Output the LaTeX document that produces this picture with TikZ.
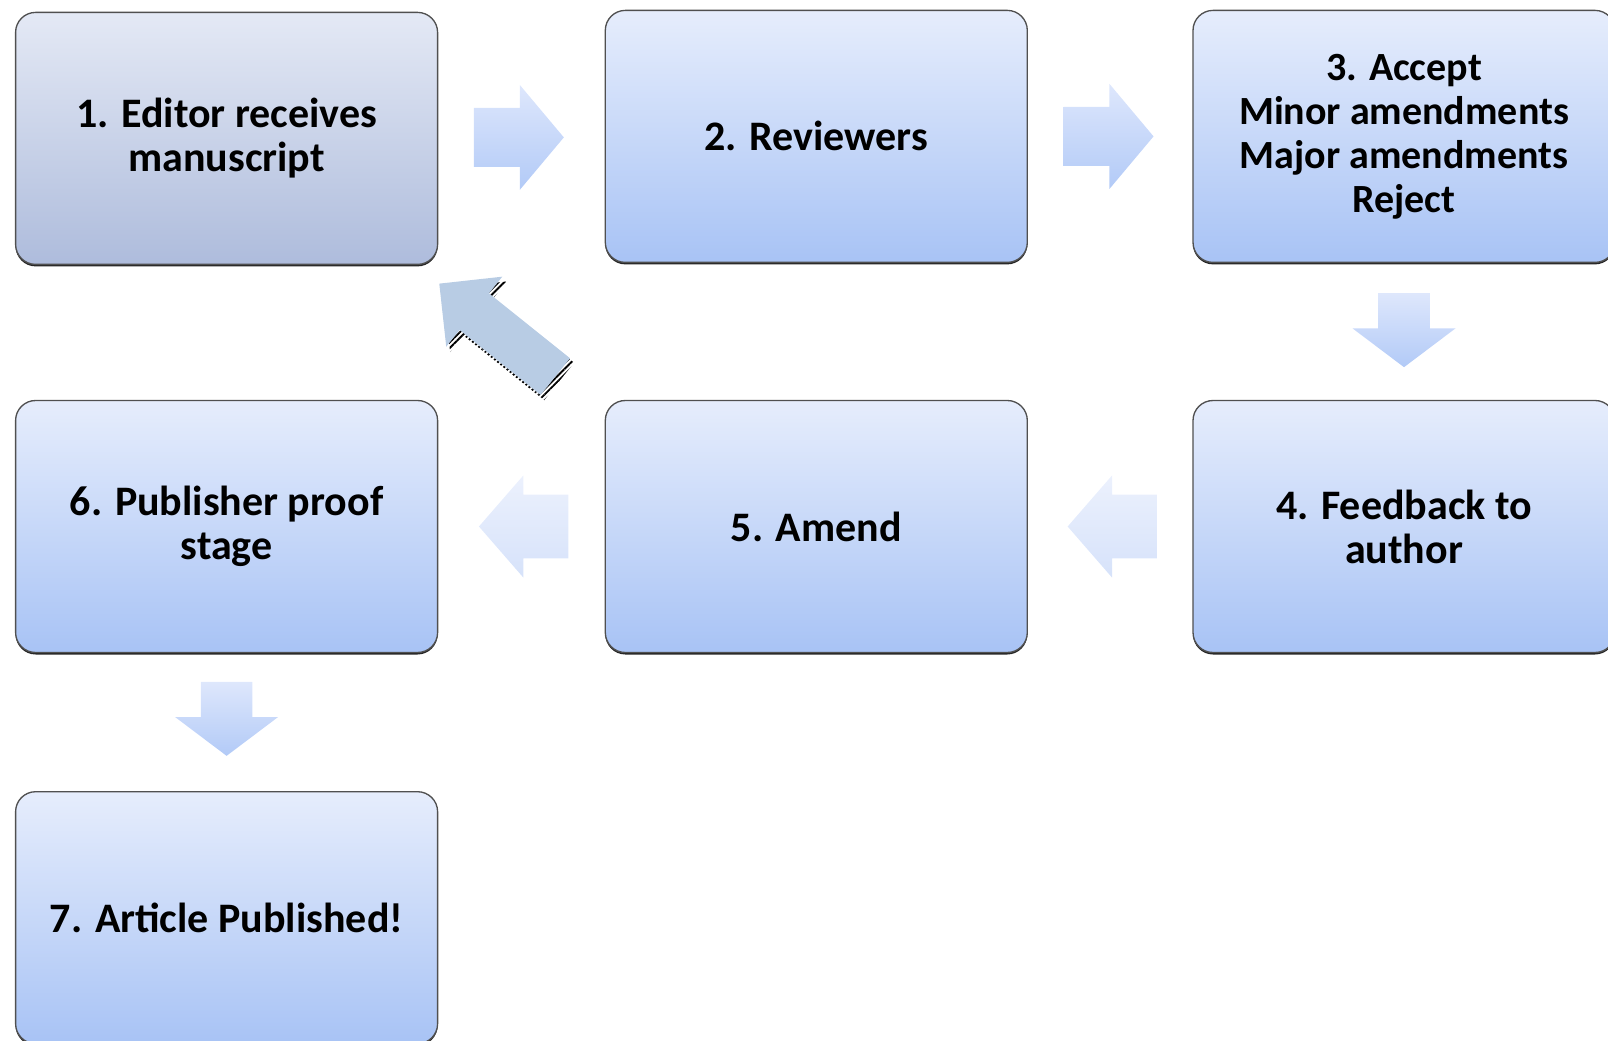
\documentclass[tikz,border=0pt]{standalone}
\usepackage{fontspec}
\setmainfont{Carlito}
\usetikzlibrary{shapes.arrows,calc,patterns.meta,shadows}
\tikzset{every picture/.style={line width=0.75pt}}

\definecolor{firsttop}{RGB}{228,233,245}
\definecolor{firstbot}{RGB}{174,188,220}
\definecolor{stagetop}{RGB}{230,237,252}
\definecolor{stagebot}{RGB}{168,195,245}
\definecolor{stageline}{RGB}{80,80,80}
\definecolor{arrowtop}{RGB}{222,231,252}
\definecolor{arrowbot}{RGB}{178,202,247}
\definecolor{lefttop}{RGB}{236,241,253}
\definecolor{leftbot}{RGB}{214,226,250}
\definecolor{backfill}{RGB}{184,204,228}

\tikzset{
  stage/.style={draw=stageline, line width=1pt, rounded corners=15pt,
    minimum width=316.5pt, minimum height=189pt, align=center,
    top color=stagetop, bottom color=stagebot,
    drop shadow={shadow xshift=0pt, shadow yshift=-1.5pt, opacity=0.85, fill=black},
    font=\fontsize{31.5}{33}\selectfont\bfseries},
  blockarrow/.style={single arrow, draw=none,
    top color=arrowtop, bottom color=arrowbot},
  rightarrow/.style={blockarrow, inner xsep=0pt, inner ysep=21.75pt, minimum width=78pt,
    minimum height=67.5pt, single arrow head extend=17.25pt, single arrow tip angle=100},
  leftarrow/.style={blockarrow, shape border rotate=180, inner xsep=0pt, inner ysep=23.5pt,
    minimum width=76pt, minimum height=67pt, single arrow head extend=14.5pt,
    single arrow tip angle=98, top color=lefttop, bottom color=leftbot},
  downarrow/.style={blockarrow, shape border rotate=270, inner xsep=19pt, inner ysep=0pt,
    minimum width=76.5pt, minimum height=55.5pt, single arrow head extend=19.25pt,
    single arrow tip angle=106},
  backarrow/.style={single arrow, draw=none, inner xsep=0pt, inner ysep=17.25pt,
    rotate=141.3, minimum width=66.75pt, minimum height=111.5pt,
    single arrow head extend=16pt, single arrow tip angle=90}
}

\begin{document}
\begin{tikzpicture}[x=0.75pt,y=0.75pt,yscale=-1,xscale=1]
\useasboundingbox (0,0) rectangle (1608,1041);
\clip (0,0) rectangle (1608,1041);

%Shape: Stages
\node [stage, top color=firsttop, bottom color=firstbot] (editor) at (226.6,138.4) {1. Editor receives\\manuscript};
\node [stage] (reviewers) at (816.3,136.4) {2. Reviewers};
\node [stage, font=\fontsize{30}{33}\selectfont\bfseries] (decision) at (1404,136.4) {3. Accept\\Minor amendments\\Major amendments\\Reject};
\node [stage] (feedback) at (1404,526.5) {4. Feedback to\\author};
\node [stage] (amend) at (816.3,526.5) {5. Amend};
\node [stage] (proof) at (226.6,526.5) {6. Publisher proof\\stage};
\node [stage] (published) at (226.6,917.7) {7. Article Published!};

%Block arrows between stages
\node [rightarrow] (to-reviewers) at ($(editor.east)!0.5!(reviewers.west)+(-15,0)$) {};
\node [rightarrow] (to-decision) at ($(reviewers.east)!0.5!(decision.west)+(-14,0)$) {};
\node [downarrow] (to-feedback) at ($(decision.south)!0.5!(feedback.north)+(0,-11)$) {};
\node [leftarrow] (to-amend) at ($(amend.east)!0.5!(feedback.west)+(16,0)$) {};
\node [leftarrow] (to-proof) at ($(proof.east)!0.5!(amend.west)+(16,0)$) {};
\node [downarrow] (to-published) at ($(proof.south)!0.5!(published.north)+(0,-13)$) {};

%Back arrow: amend to editor, with hatched shadow
\node [backarrow, pattern={Lines[angle=45,distance=3pt,line width=1.4pt]}] (back-shadow) at ($(editor.south east)!0.5!(amend.north west)+(-11,10)$) {};
\node [backarrow, fill=backfill] (to-editor) at ($(editor.south east)!0.5!(amend.north west)+(-15,5)$) {};

\end{tikzpicture}
\end{document}
